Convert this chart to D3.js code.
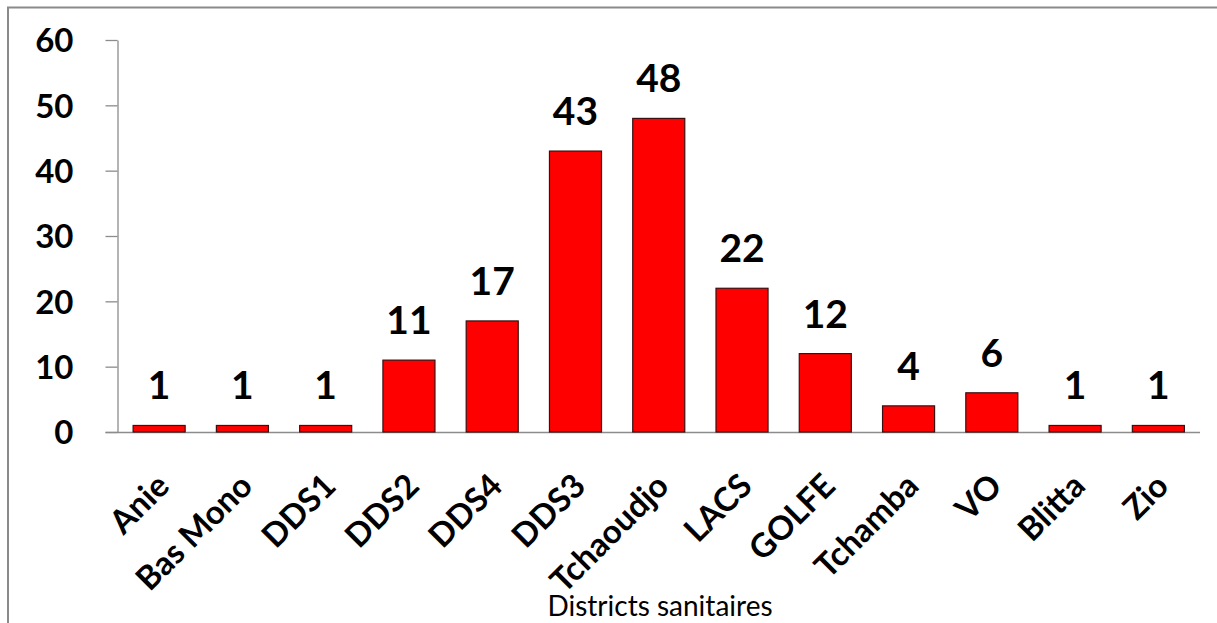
<!DOCTYPE html>
<html><head><meta charset="utf-8">
<script src="https://cdn.jsdelivr.net/npm/d3@7"></script>
<style>html,body{margin:0;padding:0;background:#fff;overflow:hidden}</style>
</head><body>
<svg id="c" width="1217" height="623"></svg>
<script>
const categories = ["Anie","Bas Mono","DDS1","DDS2","DDS4","DDS3","Tchaoudjo","LACS","GOLFE","Tchamba","VO","Blitta","Zio"];
const values = [1,1,1,11,17,43,48,22,12,4,6,1,1];
const yTicks = [0,10,20,30,40,50,60];
const xTitle = "Districts sanitaires";

(function(){
const svg = d3.select("#c");
const font = "Lato, 'Open Sans', sans-serif";
const pLeft = 117.5, pRight = 1200, pTop = 40, pBottom = 432;

svg.append("rect").attr("x",8).attr("y",7.5).attr("width",1240).attr("height",640)
  .attr("fill","none").attr("stroke","#8a8a8a").attr("stroke-width",2);

const x = d3.scaleBand().domain(categories).range([pLeft,pRight]).paddingInner(0.375).paddingOuter(0.1875);
const y = d3.scaleLinear().domain([0,60]).range([pBottom,pTop]);

const ya = svg.append("g").attr("transform",`translate(${pLeft},0)`)
  .call(d3.axisLeft(y).tickValues(yTicks).tickSize(12).tickPadding(32).tickSizeOuter(0));
ya.select(".domain").attr("stroke","#8c8c8c").attr("stroke-width",1.3);
ya.selectAll(".tick line").attr("stroke","#8c8c8c").attr("stroke-width",1.3);
ya.selectAll(".tick text").attr("font-family",font).attr("font-weight","bold").attr("font-size",33).attr("fill","#000").attr("dy","0.36em");

svg.append("line").attr("x1",pLeft-12).attr("x2",pRight).attr("y1",pBottom+0.5).attr("y2",pBottom+0.5)
  .attr("stroke","#8c8c8c").attr("stroke-width",1.5);

svg.append("g").selectAll("rect").data(values).join("rect")
  .attr("x",(d,i)=>x(categories[i]))
  .attr("y",d=>y(d))
  .attr("width",x.bandwidth())
  .attr("height",d=>pBottom-y(d))
  .attr("fill","#ff0000").attr("stroke","#3a1010").attr("stroke-width",1.2);

svg.append("g").selectAll("text").data(values).join("text")
  .attr("x",(d,i)=>x(categories[i])+x.bandwidth()/2)
  .attr("y",d=>y(d)-26)
  .attr("text-anchor","middle")
  .attr("font-family",font).attr("font-weight","bold").attr("font-size",39).attr("fill","#000")
  .text(d=>d);

svg.append("g").selectAll("text").data(categories).join("text")
  .attr("transform",d=>`translate(${x(d)+x.bandwidth()/2+12},${pBottom+56}) rotate(-45)`)
  .attr("text-anchor","end")
  .attr("font-family",font).attr("font-weight","bold").attr("font-size",33).attr("fill","#000")
  .text(d=>d);

svg.append("text").attr("x",660).attr("y",616).attr("text-anchor","middle")
  .attr("font-family",font).attr("font-size",28).attr("fill","#000").text(xTitle);
})();
</script>
</body></html>
